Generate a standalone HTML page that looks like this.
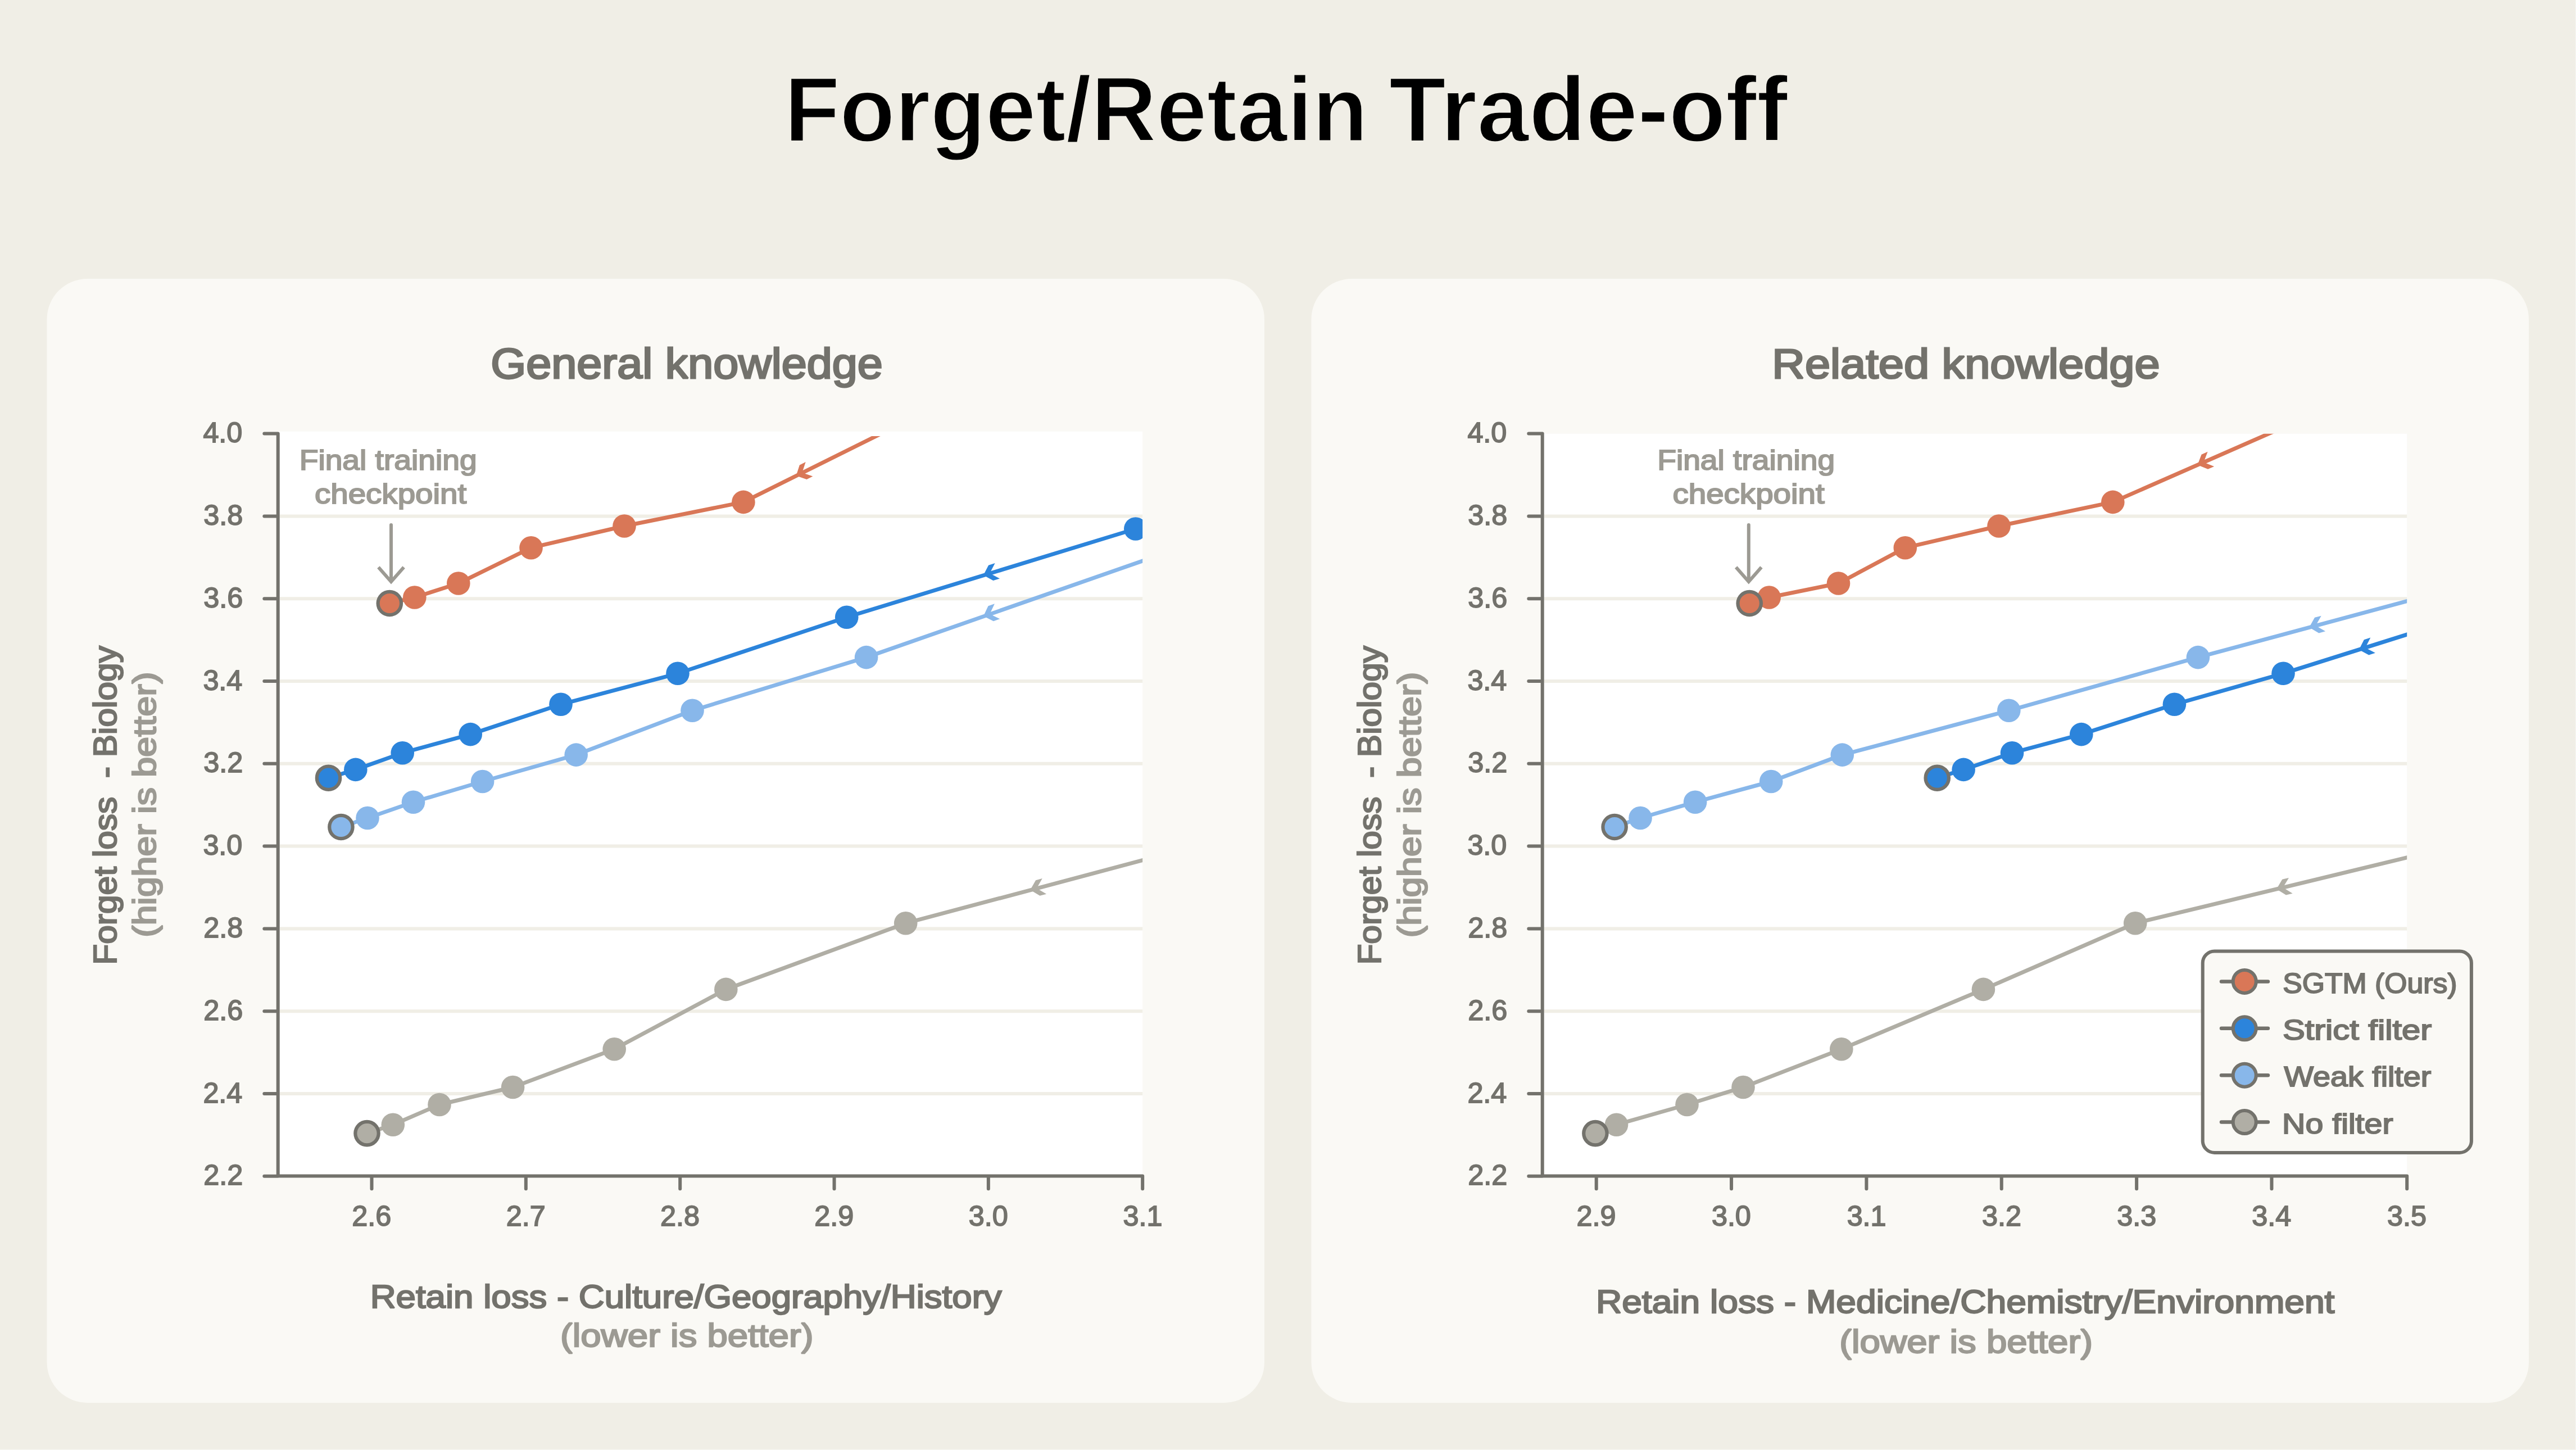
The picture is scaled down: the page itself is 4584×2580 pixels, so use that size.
<!DOCTYPE html>
<html><head><meta charset="utf-8"><title>Forget/Retain Trade-off</title>
<style>html,body{margin:0;padding:0;background:#F0EEE6;width:4584px;height:2580px;overflow:hidden}svg{display:block}</style>
</head><body>
<svg width="4584" height="2580" viewBox="0 0 4584 2580">
<rect x="0" y="0" width="4584" height="2580" fill="#F0EEE6"/>
<rect x="83.5" y="496" width="2166.5" height="2000" rx="72" ry="72" fill="#FAF9F5"/>
<rect x="2333.5" y="496" width="2166.5" height="2000" rx="72" ry="72" fill="#FAF9F5"/>
<clipPath id="cl"><rect x="494.7" y="776.0" width="1538.50" height="1316.40"/></clipPath>
<rect x="494.7" y="767.7" width="1538.50" height="1324.70" fill="#FFFFFF"/>
<line x1="497.7" y1="918.40" x2="2033.2" y2="918.40" stroke="#F0EEE6" stroke-width="6"/>
<line x1="497.7" y1="1065.20" x2="2033.2" y2="1065.20" stroke="#F0EEE6" stroke-width="6"/>
<line x1="497.7" y1="1212.00" x2="2033.2" y2="1212.00" stroke="#F0EEE6" stroke-width="6"/>
<line x1="497.7" y1="1358.80" x2="2033.2" y2="1358.80" stroke="#F0EEE6" stroke-width="6"/>
<line x1="497.7" y1="1505.60" x2="2033.2" y2="1505.60" stroke="#F0EEE6" stroke-width="6"/>
<line x1="497.7" y1="1652.40" x2="2033.2" y2="1652.40" stroke="#F0EEE6" stroke-width="6"/>
<line x1="497.7" y1="1799.20" x2="2033.2" y2="1799.20" stroke="#F0EEE6" stroke-width="6"/>
<line x1="497.7" y1="1946.00" x2="2033.2" y2="1946.00" stroke="#F0EEE6" stroke-width="6"/>
<clipPath id="cr"><rect x="2744.7" y="771.8" width="1538.50" height="1320.60"/></clipPath>
<rect x="2744.7" y="771.8" width="1538.50" height="1320.60" fill="#FFFFFF"/>
<line x1="2747.7" y1="918.40" x2="4283.2" y2="918.40" stroke="#F0EEE6" stroke-width="6"/>
<line x1="2747.7" y1="1065.20" x2="4283.2" y2="1065.20" stroke="#F0EEE6" stroke-width="6"/>
<line x1="2747.7" y1="1212.00" x2="4283.2" y2="1212.00" stroke="#F0EEE6" stroke-width="6"/>
<line x1="2747.7" y1="1358.80" x2="4283.2" y2="1358.80" stroke="#F0EEE6" stroke-width="6"/>
<line x1="2747.7" y1="1505.60" x2="4283.2" y2="1505.60" stroke="#F0EEE6" stroke-width="6"/>
<line x1="2747.7" y1="1652.40" x2="4283.2" y2="1652.40" stroke="#F0EEE6" stroke-width="6"/>
<line x1="2747.7" y1="1799.20" x2="4283.2" y2="1799.20" stroke="#F0EEE6" stroke-width="6"/>
<line x1="2747.7" y1="1946.00" x2="4283.2" y2="1946.00" stroke="#F0EEE6" stroke-width="6"/>
<g clip-path="url(#cl)">
<polyline points="653.00,2016.60 699.30,2001.20 782.00,1965.50 912.60,1934.50 1093.20,1866.70 1291.80,1760.40 1611.70,1642.70 2191.58,1488.62" fill="none" stroke="#B0AEA5" stroke-width="7" stroke-linejoin="round" stroke-linecap="round"/>
<polygon points="1833.32,1583.57 1843.08,1566.18 1854.77,1563.08 1844.82,1580.52 1862.12,1590.72 1850.43,1593.82" fill="#B0AEA5"/>
<polyline points="606.90,1471.50 654.00,1455.50 735.50,1427.20 858.60,1390.50 1025.20,1343.10 1232.00,1264.30 1541.60,1169.60 2108.08,971.86" fill="none" stroke="#88B7EA" stroke-width="7" stroke-linejoin="round" stroke-linecap="round"/>
<polygon points="1750.06,1096.37 1758.48,1078.29 1769.90,1074.31 1761.30,1092.45 1779.32,1101.31 1767.90,1105.29" fill="#88B7EA"/>
<polyline points="584.50,1384.20 632.80,1369.40 716.20,1339.70 837.20,1306.60 998.00,1253.30 1206.00,1198.30 1506.70,1098.20 2020.80,941.00" fill="none" stroke="#2C84DB" stroke-width="7" stroke-linejoin="round" stroke-linecap="round"/>
<polygon points="1749.97,1023.38 1759.08,1005.64 1770.65,1002.11 1761.35,1019.90 1779.02,1029.46 1767.45,1032.99" fill="#2C84DB"/>
<polyline points="693.30,1073.50 737.80,1063.00 815.80,1038.00 945.00,974.70 1111.00,936.00 1322.90,893.40 1860.15,626.26" fill="none" stroke="#D97757" stroke-width="7" stroke-linejoin="round" stroke-linecap="round"/>
<polygon points="1416.74,846.38 1422.82,827.39 1433.65,822.00 1427.39,841.08 1446.38,847.61 1435.55,853.00" fill="#D97757"/>
<circle cx="699.30" cy="2001.20" r="20.8" fill="#B0AEA5"/>
<circle cx="782.00" cy="1965.50" r="20.8" fill="#B0AEA5"/>
<circle cx="912.60" cy="1934.50" r="20.8" fill="#B0AEA5"/>
<circle cx="1093.20" cy="1866.70" r="20.8" fill="#B0AEA5"/>
<circle cx="1291.80" cy="1760.40" r="20.8" fill="#B0AEA5"/>
<circle cx="1611.70" cy="1642.70" r="20.8" fill="#B0AEA5"/>
<circle cx="653.00" cy="2016.60" r="20.7" fill="#B0AEA5" stroke="#73726C" stroke-width="6.2"/>
<circle cx="654.00" cy="1455.50" r="20.8" fill="#88B7EA"/>
<circle cx="735.50" cy="1427.20" r="20.8" fill="#88B7EA"/>
<circle cx="858.60" cy="1390.50" r="20.8" fill="#88B7EA"/>
<circle cx="1025.20" cy="1343.10" r="20.8" fill="#88B7EA"/>
<circle cx="1232.00" cy="1264.30" r="20.8" fill="#88B7EA"/>
<circle cx="1541.60" cy="1169.60" r="20.8" fill="#88B7EA"/>
<circle cx="606.90" cy="1471.50" r="20.7" fill="#88B7EA" stroke="#73726C" stroke-width="6.2"/>
<circle cx="632.80" cy="1369.40" r="20.8" fill="#2C84DB"/>
<circle cx="716.20" cy="1339.70" r="20.8" fill="#2C84DB"/>
<circle cx="837.20" cy="1306.60" r="20.8" fill="#2C84DB"/>
<circle cx="998.00" cy="1253.30" r="20.8" fill="#2C84DB"/>
<circle cx="1206.00" cy="1198.30" r="20.8" fill="#2C84DB"/>
<circle cx="1506.70" cy="1098.20" r="20.8" fill="#2C84DB"/>
<circle cx="2020.80" cy="941.00" r="20.8" fill="#2C84DB"/>
<circle cx="584.50" cy="1384.20" r="20.7" fill="#2C84DB" stroke="#73726C" stroke-width="6.2"/>
<circle cx="737.80" cy="1063.00" r="20.8" fill="#D97757"/>
<circle cx="815.80" cy="1038.00" r="20.8" fill="#D97757"/>
<circle cx="945.00" cy="974.70" r="20.8" fill="#D97757"/>
<circle cx="1111.00" cy="936.00" r="20.8" fill="#D97757"/>
<circle cx="1322.90" cy="893.40" r="20.8" fill="#D97757"/>
<circle cx="693.30" cy="1073.50" r="20.7" fill="#D97757" stroke="#73726C" stroke-width="6.2"/>
</g>
<g clip-path="url(#cr)">
<polyline points="2838.90,2016.60 2876.50,2001.20 3002.00,1965.50 3102.00,1934.50 3276.80,1866.70 3529.40,1760.40 3799.70,1642.70 4382.90,1501.70" fill="none" stroke="#B0AEA5" stroke-width="7" stroke-linejoin="round" stroke-linecap="round"/>
<polygon points="4051.06,1581.89 4061.21,1564.72 4072.97,1561.88 4062.63,1579.09 4079.69,1589.68 4067.93,1592.52" fill="#B0AEA5"/>
<polyline points="2873.10,1471.50 2919.00,1455.50 3016.60,1427.20 3151.70,1390.50 3278.30,1343.10 3574.80,1264.30 3911.40,1169.60 4490.81,1013.76" fill="none" stroke="#88B7EA" stroke-width="7" stroke-linejoin="round" stroke-linecap="round"/>
<polygon points="4109.28,1116.28 4118.99,1098.86 4130.68,1095.72 4120.78,1113.19 4138.11,1123.34 4126.42,1126.48" fill="#88B7EA"/>
<polyline points="3447.20,1384.20 3494.10,1369.40 3580.50,1339.70 3703.80,1306.60 3869.40,1253.30 4063.00,1198.30 4635.33,1018.18" fill="none" stroke="#2C84DB" stroke-width="7" stroke-linejoin="round" stroke-linecap="round"/>
<polygon points="4197.82,1155.99 4206.79,1138.18 4218.33,1134.54 4209.17,1152.42 4226.91,1161.82 4215.37,1165.46" fill="#2C84DB"/>
<polyline points="3113.20,1073.50 3148.20,1063.00 3271.50,1038.00 3390.30,974.70 3557.00,936.00 3759.80,893.40 4309.24,652.34" fill="none" stroke="#D97757" stroke-width="7" stroke-linejoin="round" stroke-linecap="round"/>
<polygon points="3910.53,827.32 3917.51,808.64 3928.59,803.77 3921.43,822.53 3940.09,829.96 3929.01,834.83" fill="#D97757"/>
<circle cx="2876.50" cy="2001.20" r="20.8" fill="#B0AEA5"/>
<circle cx="3002.00" cy="1965.50" r="20.8" fill="#B0AEA5"/>
<circle cx="3102.00" cy="1934.50" r="20.8" fill="#B0AEA5"/>
<circle cx="3276.80" cy="1866.70" r="20.8" fill="#B0AEA5"/>
<circle cx="3529.40" cy="1760.40" r="20.8" fill="#B0AEA5"/>
<circle cx="3799.70" cy="1642.70" r="20.8" fill="#B0AEA5"/>
<circle cx="2838.90" cy="2016.60" r="20.7" fill="#B0AEA5" stroke="#73726C" stroke-width="6.2"/>
<circle cx="2919.00" cy="1455.50" r="20.8" fill="#88B7EA"/>
<circle cx="3016.60" cy="1427.20" r="20.8" fill="#88B7EA"/>
<circle cx="3151.70" cy="1390.50" r="20.8" fill="#88B7EA"/>
<circle cx="3278.30" cy="1343.10" r="20.8" fill="#88B7EA"/>
<circle cx="3574.80" cy="1264.30" r="20.8" fill="#88B7EA"/>
<circle cx="3911.40" cy="1169.60" r="20.8" fill="#88B7EA"/>
<circle cx="2873.10" cy="1471.50" r="20.7" fill="#88B7EA" stroke="#73726C" stroke-width="6.2"/>
<circle cx="3494.10" cy="1369.40" r="20.8" fill="#2C84DB"/>
<circle cx="3580.50" cy="1339.70" r="20.8" fill="#2C84DB"/>
<circle cx="3703.80" cy="1306.60" r="20.8" fill="#2C84DB"/>
<circle cx="3869.40" cy="1253.30" r="20.8" fill="#2C84DB"/>
<circle cx="4063.00" cy="1198.30" r="20.8" fill="#2C84DB"/>
<circle cx="3447.20" cy="1384.20" r="20.7" fill="#2C84DB" stroke="#73726C" stroke-width="6.2"/>
<circle cx="3148.20" cy="1063.00" r="20.8" fill="#D97757"/>
<circle cx="3271.50" cy="1038.00" r="20.8" fill="#D97757"/>
<circle cx="3390.30" cy="974.70" r="20.8" fill="#D97757"/>
<circle cx="3557.00" cy="936.00" r="20.8" fill="#D97757"/>
<circle cx="3759.80" cy="893.40" r="20.8" fill="#D97757"/>
<circle cx="3113.20" cy="1073.50" r="20.7" fill="#D97757" stroke="#73726C" stroke-width="6.2"/>
</g>
<path d="M470.30,771.60 H494.70 V2092.40 H2033.20 V2115.20 M470.30,918.40 H494.70 M470.30,1065.20 H494.70 M470.30,1212.00 H494.70 M470.30,1358.80 H494.70 M470.30,1505.60 H494.70 M470.30,1652.40 H494.70 M470.30,1799.20 H494.70 M470.30,1946.00 H494.70 M470.30,2092.80 H494.70 M661.50,2092.40 V2115.20 M935.84,2092.40 V2115.20 M1210.18,2092.40 V2115.20 M1484.52,2092.40 V2115.20 M1758.86,2092.40 V2115.20" fill="none" stroke="#73726C" stroke-width="6" stroke-linecap="round" stroke-linejoin="round"/>
<path d="M2720.30,771.60 H2744.70 V2092.40 H4283.20 V2115.20 M2720.30,918.40 H2744.70 M2720.30,1065.20 H2744.70 M2720.30,1212.00 H2744.70 M2720.30,1358.80 H2744.70 M2720.30,1505.60 H2744.70 M2720.30,1652.40 H2744.70 M2720.30,1799.20 H2744.70 M2720.30,1946.00 H2744.70 M2720.30,2092.80 H2744.70 M2840.70,2092.40 V2115.20 M3081.05,2092.40 V2115.20 M3321.40,2092.40 V2115.20 M3561.75,2092.40 V2115.20 M3802.10,2092.40 V2115.20 M4042.45,2092.40 V2115.20" fill="none" stroke="#73726C" stroke-width="6" stroke-linecap="round" stroke-linejoin="round"/>
<line x1="696.00" y1="934" x2="696.00" y2="1033" stroke="#9C9A93" stroke-width="6" stroke-linecap="round"/>
<polyline points="673.40,1009.3 696.00,1035 718.60,1009.3" fill="none" stroke="#9C9A93" stroke-width="6" stroke-linejoin="miter" stroke-linecap="butt"/>
<line x1="3111.80" y1="934" x2="3111.80" y2="1033" stroke="#9C9A93" stroke-width="6" stroke-linecap="round"/>
<polyline points="3089.20,1009.3 3111.80,1035 3134.40,1009.3" fill="none" stroke="#9C9A93" stroke-width="6" stroke-linejoin="miter" stroke-linecap="butt"/>
<rect x="3919.7" y="1692.4" width="478.2" height="358.5" rx="21" ry="21" fill="#FAF9F5" stroke="#73726C" stroke-width="6"/>
<line x1="3953" y1="1746.4" x2="4035.9" y2="1746.4" stroke="#73726C" stroke-width="6.5" stroke-linecap="round"/>
<circle cx="3994.2" cy="1746.4" r="20.5" fill="#D97757" stroke="#73726C" stroke-width="6"/>
<line x1="3953" y1="1829.8" x2="4035.9" y2="1829.8" stroke="#73726C" stroke-width="6.5" stroke-linecap="round"/>
<circle cx="3994.2" cy="1829.8" r="20.5" fill="#2C84DB" stroke="#73726C" stroke-width="6"/>
<line x1="3953" y1="1913.2" x2="4035.9" y2="1913.2" stroke="#73726C" stroke-width="6.5" stroke-linecap="round"/>
<circle cx="3994.2" cy="1913.2" r="20.5" fill="#88B7EA" stroke="#73726C" stroke-width="6"/>
<line x1="3953" y1="1996.6" x2="4035.9" y2="1996.6" stroke="#73726C" stroke-width="6.5" stroke-linecap="round"/>
<circle cx="3994.2" cy="1996.6" r="20.5" fill="#B0AEA5" stroke="#73726C" stroke-width="6"/>
<rect x="0" y="2579" width="4584" height="1" fill="#F8F7F3"/>
<rect x="4583" y="0" width="1" height="2580" fill="#F8F7F3"/>
<text x="1396.00" y="251.43" font-family='"Liberation Sans", sans-serif' font-size="163.61" font-weight="bold" fill="#000000" stroke="#F0EEE6" stroke-width="2.86" stroke-linejoin="miter" stroke-miterlimit="2" textLength="1037.91" lengthAdjust="spacingAndGlyphs">Forget/Retain</text>
<text x="2471.67" y="251.43" font-family='"Liberation Sans", sans-serif' font-size="163.61" font-weight="bold" fill="#000000" stroke="#F0EEE6" stroke-width="2.86" stroke-linejoin="miter" stroke-miterlimit="2" textLength="709.68" lengthAdjust="spacingAndGlyphs">Trade-off</text>
<text x="873.31" y="673.40" font-family='"Liberation Sans", sans-serif' font-size="75.14" font-weight="normal" fill="#73726C" stroke="#73726C" stroke-width="3.01" stroke-linejoin="miter" stroke-miterlimit="2" textLength="697.57" lengthAdjust="spacingAndGlyphs">General knowledge</text>
<text x="3153.35" y="673.41" font-family='"Liberation Sans", sans-serif' font-size="74.31" font-weight="normal" fill="#73726C" stroke="#73726C" stroke-width="2.97" stroke-linejoin="miter" stroke-miterlimit="2" textLength="690.26" lengthAdjust="spacingAndGlyphs">Related knowledge</text>
<text x="658.67" y="2327.26" font-family='"Liberation Sans", sans-serif' font-size="56.87" font-weight="normal" fill="#73726C" stroke="#73726C" stroke-width="2.27" stroke-linejoin="miter" stroke-miterlimit="2" textLength="1123.99" lengthAdjust="spacingAndGlyphs">Retain loss - Culture/Geography/History</text>
<text x="996.97" y="2396.16" font-family='"Liberation Sans", sans-serif' font-size="56.87" font-weight="normal" fill="#9C9A93" stroke="#9C9A93" stroke-width="2.27" stroke-linejoin="miter" stroke-miterlimit="2" textLength="450.47" lengthAdjust="spacingAndGlyphs">(lower is better)</text>
<text x="2839.92" y="2336.47" font-family='"Liberation Sans", sans-serif' font-size="56.59" font-weight="normal" fill="#73726C" stroke="#73726C" stroke-width="2.26" stroke-linejoin="miter" stroke-miterlimit="2" textLength="1314.52" lengthAdjust="spacingAndGlyphs">Retain loss - Medicine/Chemistry/Environment</text>
<text x="3273.16" y="2407.17" font-family='"Liberation Sans", sans-serif' font-size="56.59" font-weight="normal" fill="#9C9A93" stroke="#9C9A93" stroke-width="2.26" stroke-linejoin="miter" stroke-miterlimit="2" textLength="450.89" lengthAdjust="spacingAndGlyphs">(lower is better)</text>
<text transform="translate(206.76 1716.68) rotate(-90)" x="0" y="0" font-family='"Liberation Sans", sans-serif' font-size="57.14" font-weight="normal" fill="#73726C" stroke="#73726C" stroke-width="2.29" stroke-linejoin="miter" stroke-miterlimit="2" textLength="567.53" lengthAdjust="spacingAndGlyphs">Forget loss&#160; - Biology</text>
<text transform="translate(276.86 1668.10) rotate(-90)" x="0" y="0" font-family='"Liberation Sans", sans-serif' font-size="57.14" font-weight="normal" fill="#9C9A93" stroke="#9C9A93" stroke-width="2.29" stroke-linejoin="miter" stroke-miterlimit="2" textLength="472.62" lengthAdjust="spacingAndGlyphs">(higher is better)</text>
<text transform="translate(2457.15 1716.57) rotate(-90)" x="0" y="0" font-family='"Liberation Sans", sans-serif' font-size="57.56" font-weight="normal" fill="#73726C" stroke="#73726C" stroke-width="2.30" stroke-linejoin="miter" stroke-miterlimit="2" textLength="567.62" lengthAdjust="spacingAndGlyphs">Forget loss&#160; - Biology</text>
<text transform="translate(2527.65 1668.59) rotate(-90)" x="0" y="0" font-family='"Liberation Sans", sans-serif' font-size="57.56" font-weight="normal" fill="#9C9A93" stroke="#9C9A93" stroke-width="2.30" stroke-linejoin="miter" stroke-miterlimit="2" textLength="472.90" lengthAdjust="spacingAndGlyphs">(higher is better)</text>
<text x="532.68" y="836.01" font-family='"Liberation Sans", sans-serif' font-size="49.45" font-weight="normal" fill="#9C9A93" stroke="#9C9A93" stroke-width="1.98" stroke-linejoin="miter" stroke-miterlimit="2" textLength="315.93" lengthAdjust="spacingAndGlyphs">Final training</text>
<text x="559.92" y="896.41" font-family='"Liberation Sans", sans-serif' font-size="49.45" font-weight="normal" fill="#9C9A93" stroke="#9C9A93" stroke-width="1.98" stroke-linejoin="miter" stroke-miterlimit="2" textLength="270.40" lengthAdjust="spacingAndGlyphs">checkpoint</text>
<text x="2949.18" y="836.01" font-family='"Liberation Sans", sans-serif' font-size="49.45" font-weight="normal" fill="#9C9A93" stroke="#9C9A93" stroke-width="1.98" stroke-linejoin="miter" stroke-miterlimit="2" textLength="315.93" lengthAdjust="spacingAndGlyphs">Final training</text>
<text x="2976.42" y="896.41" font-family='"Liberation Sans", sans-serif' font-size="49.45" font-weight="normal" fill="#9C9A93" stroke="#9C9A93" stroke-width="1.98" stroke-linejoin="miter" stroke-miterlimit="2" textLength="270.40" lengthAdjust="spacingAndGlyphs">checkpoint</text>
<text x="4062.16" y="1766.62" font-family='"Liberation Sans", sans-serif' font-size="49.04" font-weight="normal" fill="#73726C" stroke="#73726C" stroke-width="1.96" stroke-linejoin="miter" stroke-miterlimit="2" textLength="310.33" lengthAdjust="spacingAndGlyphs">SGTM (Ours)</text>
<text x="4061.92" y="1850.02" font-family='"Liberation Sans", sans-serif' font-size="49.04" font-weight="normal" fill="#73726C" stroke="#73726C" stroke-width="1.96" stroke-linejoin="miter" stroke-miterlimit="2" textLength="265.09" lengthAdjust="spacingAndGlyphs">Strict filter</text>
<text x="4064.58" y="1933.42" font-family='"Liberation Sans", sans-serif' font-size="49.04" font-weight="normal" fill="#73726C" stroke="#73726C" stroke-width="1.96" stroke-linejoin="miter" stroke-miterlimit="2" textLength="261.71" lengthAdjust="spacingAndGlyphs">Weak filter</text>
<text x="4061.10" y="2016.82" font-family='"Liberation Sans", sans-serif' font-size="49.04" font-weight="normal" fill="#73726C" stroke="#73726C" stroke-width="1.96" stroke-linejoin="miter" stroke-miterlimit="2" textLength="197.39" lengthAdjust="spacingAndGlyphs">No filter</text>
<text x="361.39" y="787.22" font-family='"Liberation Sans", sans-serif' font-size="50.34" fill="#73726C" stroke="#73726C" stroke-width="1.76" stroke-linejoin="miter" stroke-miterlimit="2">4.0</text>
<text x="362.18" y="934.02" font-family='"Liberation Sans", sans-serif' font-size="50.34" fill="#73726C" stroke="#73726C" stroke-width="1.76" stroke-linejoin="miter" stroke-miterlimit="2">3.8</text>
<text x="362.18" y="1080.82" font-family='"Liberation Sans", sans-serif' font-size="50.34" fill="#73726C" stroke="#73726C" stroke-width="1.76" stroke-linejoin="miter" stroke-miterlimit="2">3.6</text>
<text x="361.39" y="1227.62" font-family='"Liberation Sans", sans-serif' font-size="50.34" fill="#73726C" stroke="#73726C" stroke-width="1.76" stroke-linejoin="miter" stroke-miterlimit="2">3.4</text>
<text x="362.18" y="1374.42" font-family='"Liberation Sans", sans-serif' font-size="50.34" fill="#73726C" stroke="#73726C" stroke-width="1.76" stroke-linejoin="miter" stroke-miterlimit="2">3.2</text>
<text x="361.39" y="1521.22" font-family='"Liberation Sans", sans-serif' font-size="50.34" fill="#73726C" stroke="#73726C" stroke-width="1.76" stroke-linejoin="miter" stroke-miterlimit="2">3.0</text>
<text x="362.18" y="1668.02" font-family='"Liberation Sans", sans-serif' font-size="50.34" fill="#73726C" stroke="#73726C" stroke-width="1.76" stroke-linejoin="miter" stroke-miterlimit="2">2.8</text>
<text x="362.18" y="1814.82" font-family='"Liberation Sans", sans-serif' font-size="50.34" fill="#73726C" stroke="#73726C" stroke-width="1.76" stroke-linejoin="miter" stroke-miterlimit="2">2.6</text>
<text x="361.39" y="1961.62" font-family='"Liberation Sans", sans-serif' font-size="50.34" fill="#73726C" stroke="#73726C" stroke-width="1.76" stroke-linejoin="miter" stroke-miterlimit="2">2.4</text>
<text x="362.18" y="2108.42" font-family='"Liberation Sans", sans-serif' font-size="50.34" fill="#73726C" stroke="#73726C" stroke-width="1.76" stroke-linejoin="miter" stroke-miterlimit="2">2.2</text>
<text x="626.35" y="2181.42" font-family='"Liberation Sans", sans-serif' font-size="50.34" fill="#73726C" stroke="#73726C" stroke-width="1.76" stroke-linejoin="miter" stroke-miterlimit="2">2.6</text>
<text x="900.69" y="2181.42" font-family='"Liberation Sans", sans-serif' font-size="50.34" fill="#73726C" stroke="#73726C" stroke-width="1.76" stroke-linejoin="miter" stroke-miterlimit="2">2.7</text>
<text x="1175.03" y="2181.42" font-family='"Liberation Sans", sans-serif' font-size="50.34" fill="#73726C" stroke="#73726C" stroke-width="1.76" stroke-linejoin="miter" stroke-miterlimit="2">2.8</text>
<text x="1449.37" y="2181.42" font-family='"Liberation Sans", sans-serif' font-size="50.34" fill="#73726C" stroke="#73726C" stroke-width="1.76" stroke-linejoin="miter" stroke-miterlimit="2">2.9</text>
<text x="1723.71" y="2181.42" font-family='"Liberation Sans", sans-serif' font-size="50.34" fill="#73726C" stroke="#73726C" stroke-width="1.76" stroke-linejoin="miter" stroke-miterlimit="2">3.0</text>
<text x="1998.44" y="2181.42" font-family='"Liberation Sans", sans-serif' font-size="50.34" fill="#73726C" stroke="#73726C" stroke-width="1.76" stroke-linejoin="miter" stroke-miterlimit="2">3.1</text>
<text x="2611.39" y="787.22" font-family='"Liberation Sans", sans-serif' font-size="50.34" fill="#73726C" stroke="#73726C" stroke-width="1.76" stroke-linejoin="miter" stroke-miterlimit="2">4.0</text>
<text x="2612.18" y="934.02" font-family='"Liberation Sans", sans-serif' font-size="50.34" fill="#73726C" stroke="#73726C" stroke-width="1.76" stroke-linejoin="miter" stroke-miterlimit="2">3.8</text>
<text x="2612.18" y="1080.82" font-family='"Liberation Sans", sans-serif' font-size="50.34" fill="#73726C" stroke="#73726C" stroke-width="1.76" stroke-linejoin="miter" stroke-miterlimit="2">3.6</text>
<text x="2611.39" y="1227.62" font-family='"Liberation Sans", sans-serif' font-size="50.34" fill="#73726C" stroke="#73726C" stroke-width="1.76" stroke-linejoin="miter" stroke-miterlimit="2">3.4</text>
<text x="2612.18" y="1374.42" font-family='"Liberation Sans", sans-serif' font-size="50.34" fill="#73726C" stroke="#73726C" stroke-width="1.76" stroke-linejoin="miter" stroke-miterlimit="2">3.2</text>
<text x="2611.39" y="1521.22" font-family='"Liberation Sans", sans-serif' font-size="50.34" fill="#73726C" stroke="#73726C" stroke-width="1.76" stroke-linejoin="miter" stroke-miterlimit="2">3.0</text>
<text x="2612.18" y="1668.02" font-family='"Liberation Sans", sans-serif' font-size="50.34" fill="#73726C" stroke="#73726C" stroke-width="1.76" stroke-linejoin="miter" stroke-miterlimit="2">2.8</text>
<text x="2612.18" y="1814.82" font-family='"Liberation Sans", sans-serif' font-size="50.34" fill="#73726C" stroke="#73726C" stroke-width="1.76" stroke-linejoin="miter" stroke-miterlimit="2">2.6</text>
<text x="2611.39" y="1961.62" font-family='"Liberation Sans", sans-serif' font-size="50.34" fill="#73726C" stroke="#73726C" stroke-width="1.76" stroke-linejoin="miter" stroke-miterlimit="2">2.4</text>
<text x="2612.18" y="2108.42" font-family='"Liberation Sans", sans-serif' font-size="50.34" fill="#73726C" stroke="#73726C" stroke-width="1.76" stroke-linejoin="miter" stroke-miterlimit="2">2.2</text>
<text x="2805.55" y="2181.42" font-family='"Liberation Sans", sans-serif' font-size="50.34" fill="#73726C" stroke="#73726C" stroke-width="1.76" stroke-linejoin="miter" stroke-miterlimit="2">2.9</text>
<text x="3045.90" y="2181.42" font-family='"Liberation Sans", sans-serif' font-size="50.34" fill="#73726C" stroke="#73726C" stroke-width="1.76" stroke-linejoin="miter" stroke-miterlimit="2">3.0</text>
<text x="3286.64" y="2181.42" font-family='"Liberation Sans", sans-serif' font-size="50.34" fill="#73726C" stroke="#73726C" stroke-width="1.76" stroke-linejoin="miter" stroke-miterlimit="2">3.1</text>
<text x="3526.99" y="2181.42" font-family='"Liberation Sans", sans-serif' font-size="50.34" fill="#73726C" stroke="#73726C" stroke-width="1.76" stroke-linejoin="miter" stroke-miterlimit="2">3.2</text>
<text x="3767.34" y="2181.42" font-family='"Liberation Sans", sans-serif' font-size="50.34" fill="#73726C" stroke="#73726C" stroke-width="1.76" stroke-linejoin="miter" stroke-miterlimit="2">3.3</text>
<text x="4007.30" y="2181.42" font-family='"Liberation Sans", sans-serif' font-size="50.34" fill="#73726C" stroke="#73726C" stroke-width="1.76" stroke-linejoin="miter" stroke-miterlimit="2">3.4</text>
<text x="4248.04" y="2181.42" font-family='"Liberation Sans", sans-serif' font-size="50.34" fill="#73726C" stroke="#73726C" stroke-width="1.76" stroke-linejoin="miter" stroke-miterlimit="2">3.5</text>
</svg>
</body></html>
